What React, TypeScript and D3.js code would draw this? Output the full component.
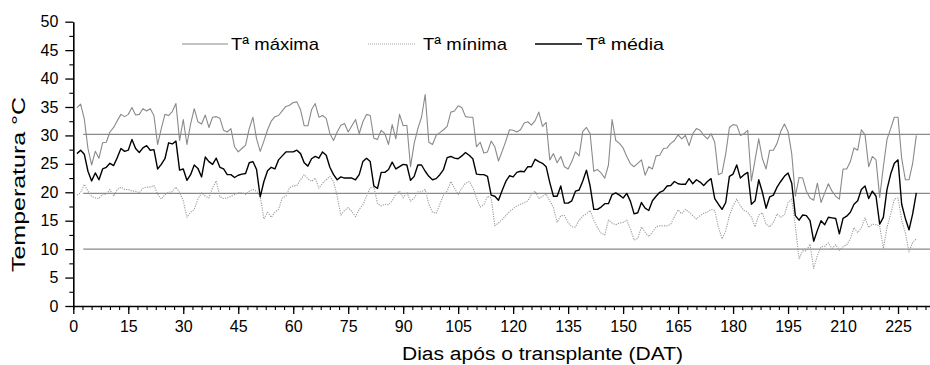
import { useEffect, useRef } from "react";
import * as d3 from "d3";

const width = 930;
const height = 365;
const margin = { top: 21.7, right: -1, bottom: 59, left: 73.3 };

// dias após o transplante (1..230)
const firstDay = 1;

const tMax = [
  34.9, 35.5, 32.9, 27.7, 24.8, 27.2, 26.0, 28.7, 28.8, 30.6,
  31.4, 32.6, 33.7, 33.3, 33.7, 34.9, 33.6, 33.7, 34.7, 34.3,
  34.7, 33.5, 28.4, 31.2, 33.7, 33.5, 34.2, 35.6, 29.1, 32.8,
  28.4, 32.0, 34.7, 32.4, 32.0, 33.6, 31.4, 33.2, 33.3, 33.0,
  30.9, 30.6, 31.2, 28.0, 27.1, 27.7, 28.3, 31.2, 33.2, 29.4,
  27.2, 29.0, 31.0, 32.5, 33.3, 33.5, 34.3, 35.1, 35.3, 35.8,
  35.9, 34.5, 31.7, 31.7, 34.5, 35.6, 33.2, 33.5, 33.0, 30.3,
  29.1, 30.6, 31.8, 32.1, 30.6, 31.7, 32.8, 30.3, 32.4, 33.7,
  33.5, 29.5, 29.3, 30.9, 30.3, 28.4, 31.9, 29.4, 33.7, 31.7,
  31.8, 24.5, 28.6, 31.2, 33.2, 37.2, 28.8, 28.4, 30.0, 30.5,
  31.0, 31.6, 34.1, 34.3, 35.2, 34.9, 33.3, 33.2, 33.2, 28.0,
  28.8, 26.9, 27.1, 29.0, 28.0, 25.5, 27.2, 29.0, 31.0, 30.9,
  30.6, 31.0, 32.2, 32.4, 31.8, 32.6, 34.1, 31.6, 32.3, 25.7,
  26.8, 25.2, 26.3, 24.5, 24.1, 25.4, 27.1, 26.4, 30.7, 31.4,
  30.3, 23.7, 24.0, 23.4, 22.5, 24.8, 32.8, 29.1, 28.6, 27.8,
  26.3, 25.0, 24.5, 25.1, 25.7, 23.0, 24.5, 24.1, 26.4, 26.5,
  27.7, 27.8, 28.6, 29.1, 30.1, 29.4, 30.0, 28.2, 30.3, 31.2,
  30.9, 30.0, 29.4, 30.3, 28.8, 23.1, 23.4, 26.8, 31.4, 31.9,
  31.8, 30.0, 30.3, 30.9, 22.0, 25.7, 29.4, 25.9, 24.1, 27.4,
  27.4, 28.6, 30.7, 32.0, 30.7, 26.8, 19.3, 22.6, 22.5, 20.2,
  19.0, 18.6, 21.6, 18.2, 19.9, 21.5, 20.2, 19.3, 18.8, 24.1,
  24.1, 25.4, 27.8, 27.4, 31.0, 30.1, 24.5, 26.3, 25.7, 19.1,
  24.5, 29.3, 31.2, 33.2, 33.2, 26.0, 22.2, 22.2, 25.1, 30.0,
];

const tMin = [
  19.5, 19.9, 21.4, 20.2, 19.3, 19.0, 18.9, 19.7, 19.6, 20.5,
  19.3, 20.5, 20.9, 20.5, 20.5, 20.2, 20.2, 19.9, 20.7, 20.9,
  20.9, 21.2, 19.7, 18.8, 19.6, 20.0, 20.1, 20.9, 20.0, 18.5,
  15.6, 16.5, 17.0, 18.8, 19.9, 19.3, 19.0, 20.8, 22.0, 19.2,
  18.9, 19.0, 19.3, 19.6, 19.9, 19.9, 19.6, 20.2, 20.5, 20.2,
  19.3, 15.3, 16.5, 15.6, 16.5, 17.0, 19.0, 19.3, 20.8, 21.1,
  21.2, 22.2, 23.1, 22.4, 21.9, 22.5, 20.7, 21.6, 22.2, 22.8,
  21.9, 19.3, 16.0, 16.8, 17.3, 16.6, 15.7, 17.0, 17.8, 19.3,
  20.8, 20.9, 18.0, 17.6, 17.9, 17.8, 18.5, 19.7, 20.2, 19.0,
  20.0, 18.4, 19.0, 20.1, 20.1, 20.5, 17.9, 16.5, 16.3, 17.9,
  19.5, 20.2, 21.9, 20.7, 19.6, 20.7, 21.6, 21.9, 20.9, 19.0,
  17.4, 17.8, 19.3, 19.0, 14.1, 14.6, 15.2, 15.9, 16.6, 17.1,
  17.6, 17.9, 18.2, 18.5, 19.6, 20.2, 18.9, 19.3, 19.7, 18.5,
  17.3, 14.7, 15.9, 15.9, 14.7, 13.9, 13.9, 15.1, 15.8, 16.2,
  16.8, 15.1, 13.8, 12.8, 12.5, 15.1, 14.6, 14.3, 14.6, 14.7,
  15.1, 13.5, 11.6, 11.9, 13.9, 13.0, 12.2, 13.0, 13.9, 14.1,
  14.1, 14.1, 14.4, 15.7, 16.9, 16.2, 17.0, 16.5, 15.9, 15.3,
  15.9, 16.3, 16.5, 17.0, 16.8, 13.9, 11.8, 13.2, 15.9, 17.6,
  18.8, 17.6, 16.8, 16.5, 15.6, 13.9, 16.0, 16.4, 14.4, 13.9,
  14.7, 16.2, 15.6, 16.0, 18.2, 18.8, 14.0, 8.3, 9.7, 9.7,
  10.9, 6.6, 8.9, 10.4, 10.5, 11.1, 10.1, 10.8, 9.8, 10.4,
  10.8, 11.8, 13.8, 12.9, 13.8, 15.5, 13.8, 14.4, 14.3, 14.1,
  10.1, 13.8, 16.2, 18.8, 19.0, 15.1, 12.9, 9.5, 11.2, 11.8,
];

const tMed = [
  26.8, 27.4, 26.7, 23.7, 22.0, 23.4, 22.2, 24.1, 24.4, 25.1,
  24.7, 26.1, 27.7, 27.2, 27.4, 29.3, 27.7, 27.0, 27.8, 28.2,
  27.4, 27.5, 24.1, 24.9, 25.9, 28.7, 28.5, 29.0, 23.9, 24.1,
  22.1, 23.1, 24.8, 24.2, 22.7, 26.2, 25.4, 24.9, 26.0, 24.4,
  24.1, 23.1, 23.1, 22.6, 23.0, 23.2, 23.3, 25.2, 25.4, 24.0,
  19.2, 21.9, 23.8, 24.4, 24.1, 25.7, 26.4, 27.1, 27.1, 27.1,
  27.4, 26.8, 25.2, 24.6, 25.9, 26.3, 26.0, 27.1, 26.5, 24.4,
  23.1, 22.2, 22.7, 22.5, 22.5, 22.5, 22.2, 23.1, 25.4, 26.0,
  25.4, 21.1, 20.7, 23.5, 23.5, 24.0, 25.3, 24.1, 24.5, 24.9,
  24.8, 22.1, 22.8, 24.8, 24.8, 23.7, 22.8, 22.2, 22.4, 23.1,
  24.0, 26.1, 26.3, 26.0, 25.9, 26.4, 27.0, 26.5, 25.9, 23.2,
  23.1, 23.1, 22.8, 19.5, 19.3, 18.6, 20.3, 21.9, 22.9, 22.7,
  23.5, 23.7, 23.6, 24.5, 24.5, 25.8, 25.4, 25.1, 24.5, 21.7,
  19.3, 19.3, 21.1, 18.1, 18.1, 18.5, 20.2, 20.4, 22.0, 23.9,
  21.1, 17.0, 17.0, 17.4, 18.0, 18.0, 19.6, 19.9, 19.5, 19.0,
  19.8, 18.4, 16.2, 16.4, 18.2, 17.2, 16.8, 18.5, 19.3, 20.0,
  20.3, 21.1, 21.2, 21.9, 21.5, 21.4, 21.4, 22.4, 21.5, 22.2,
  21.8, 21.2, 21.9, 22.4, 18.9, 17.9, 17.0, 18.2, 22.8, 23.2,
  24.8, 22.5, 23.1, 23.5, 17.9, 18.5, 22.2, 20.0, 17.2, 19.2,
  19.5, 20.9, 21.9, 22.8, 23.4, 21.6, 15.9, 15.1, 16.0, 15.9,
  15.0, 11.4, 13.3, 15.0, 14.3, 15.6, 15.5, 15.4, 12.7, 15.4,
  15.8, 16.5, 17.9, 18.5, 20.5, 21.1, 18.9, 20.2, 19.3, 14.4,
  15.6, 20.5, 23.2, 25.1, 25.7, 17.9, 15.4, 13.4, 16.2, 19.9,
];

// linhas de referência horizontais
const refLevels = [30.2, 19.8, 10];
const refStartDay = 2.7;

const xTicks = [0, 15, 30, 45, 60, 75, 90, 105, 120, 135, 150, 165, 180, 195, 210, 225];
const yTicks = [0, 5, 10, 15, 20, 25, 30, 35, 40, 45, 50];

const legendLabels = ["Tª máxima", "Tª mínima", "Tª média"];

const fontFamily = "'Liberation Sans', Arial, Helvetica, sans-serif";

type Point = { day: number; value: number };

const toPoints = (values: number[]): Point[] =>
  values.map((value, i) => ({ day: firstDay + i, value }));

export default function App() {
  const svgRef = useRef<SVGSVGElement | null>(null);

  useEffect(() => {
    if (!svgRef.current) return;
    const svg = d3.select(svgRef.current);

    const x = d3
      .scaleLinear()
      .domain([0, 234])
      .range([margin.left, width - margin.right]);

    const y = d3
      .scaleLinear()
      .domain([0, 50])
      .range([height - margin.bottom, margin.top]);

    // linhas de referência
    svg
      .select<SVGGElement>(".ref-lines")
      .selectAll("line")
      .data(refLevels)
      .join("line")
      .attr("x1", x(refStartDay))
      .attr("x2", x(234))
      .attr("y1", (d) => y(d))
      .attr("y2", (d) => y(d))
      .attr("stroke", "#8a8a8a")
      .attr("stroke-width", 1.3);

    const line = d3
      .line<Point>()
      .x((d) => x(d.day))
      .y((d) => y(d.value));

    const series = [
      { key: "min", data: toPoints(tMin), color: "#9a9a9a", w: 1.1, dash: "1.2 1.2" },
      { key: "max", data: toPoints(tMax), color: "#8a8a8a", w: 1.1, dash: null },
      { key: "med", data: toPoints(tMed), color: "#000000", w: 1.4, dash: null },
    ];

    svg
      .select<SVGGElement>(".series")
      .selectAll("path")
      .data(series)
      .join("path")
      .attr("d", (d) => line(d.data))
      .attr("fill", "none")
      .attr("stroke", (d) => d.color)
      .attr("stroke-width", (d) => d.w)
      .attr("stroke-dasharray", (d) => d.dash)
      .attr("stroke-linejoin", "round");

    // eixo x
    const xAxis = svg
      .select<SVGGElement>(".x-axis")
      .attr("transform", `translate(0, ${y(0)})`);
    xAxis.call(
      d3
        .axisBottom(x)
        .tickValues(xTicks)
        .tickSize(8)
        .tickSizeOuter(0)
        .tickPadding(7),
    );
    xAxis.select(".domain").attr("stroke", "#000").attr("stroke-width", 1.6);
    xAxis.selectAll(".tick line").attr("stroke-width", 1.3);
    xAxis
      .selectAll("text")
      .style("font-size", "16px")
      .style("font-family", fontFamily)
      .attr("fill", "#000");

    svg
      .select<SVGGElement>(".x-minor")
      .attr("transform", `translate(0, ${y(0)})`)
      .call(
        d3
          .axisBottom(x)
          .tickValues(d3.range(0, 234, 2.5))
          .tickSize(4)
          .tickSizeOuter(0)
          .tickFormat(() => ""),
      )
      .call((g) => g.select(".domain").remove())
      .selectAll("line")
      .attr("stroke-width", 1.1);

    // eixo y
    const yAxis = svg
      .select<SVGGElement>(".y-axis")
      .attr("transform", `translate(${x(0)}, 0)`);
    yAxis.call(
      d3
        .axisLeft(y)
        .tickValues(yTicks)
        .tickSize(8)
        .tickSizeOuter(0)
        .tickPadding(7),
    );
    yAxis.select(".domain").attr("stroke", "#000").attr("stroke-width", 1.6);
    yAxis.selectAll(".tick line").attr("stroke-width", 1.3);
    yAxis
      .selectAll("text")
      .style("font-size", "16px")
      .style("font-family", fontFamily)
      .attr("fill", "#000");

    svg
      .select<SVGGElement>(".y-minor")
      .attr("transform", `translate(${x(0)}, 0)`)
      .call(
        d3
          .axisLeft(y)
          .tickValues(d3.range(2.5, 50, 5))
          .tickSize(4)
          .tickSizeOuter(0)
          .tickFormat(() => ""),
      )
      .call((g) => g.select(".domain").remove())
      .selectAll("line")
      .attr("stroke-width", 1.1);
  }, []);

  const legend = [
    { x1: 182, x2: 228, tx: 231, len: 88, color: "#8a8a8a", dash: undefined, w: 1.1 },
    { x1: 368, x2: 415, tx: 423, len: 84, color: "#a8a8a8", dash: "1 1", w: 1.1 },
    { x1: 535, x2: 582, tx: 586, len: 78, color: "#000000", dash: undefined, w: 1.4 },
  ];

  return (
    <svg
      ref={svgRef}
      width={width}
      height={height}
      viewBox={`0 0 ${width} ${height}`}
      style={{ position: "absolute", left: 0, top: 0, background: "#fff" }}
      fontFamily={fontFamily}
    >
      <rect width={width} height={height} fill="#fff" />
      <g className="ref-lines" />
      <g className="series" />
      <g className="x-minor" />
      <g className="y-minor" />
      <g className="x-axis" />
      <g className="y-axis" />

      <g className="legend">
        {legend.map((d, i) => (
          <g key={legendLabels[i]}>
            <line
              x1={d.x1}
              x2={d.x2}
              y1={44}
              y2={44}
              stroke={d.color}
              strokeWidth={d.w}
              strokeDasharray={d.dash}
            />
            <text
              x={d.tx}
              y={50}
              fontSize={17}
              fill="#000"
              textLength={d.len}
              lengthAdjust="spacingAndGlyphs"
            >
              {legendLabels[i]}
            </text>
          </g>
        ))}
      </g>

      <text
        x={402}
        y={360}
        fontSize={18}
        fill="#000"
        textLength={281}
        lengthAdjust="spacingAndGlyphs"
      >
        Dias após o transplante (DAT)
      </text>
      <text
        transform="rotate(-90)"
        x={-272}
        y={25}
        fontSize={18}
        fill="#000"
        textLength={175}
        lengthAdjust="spacingAndGlyphs"
      >
        Temperatura °C
      </text>
    </svg>
  );
}
